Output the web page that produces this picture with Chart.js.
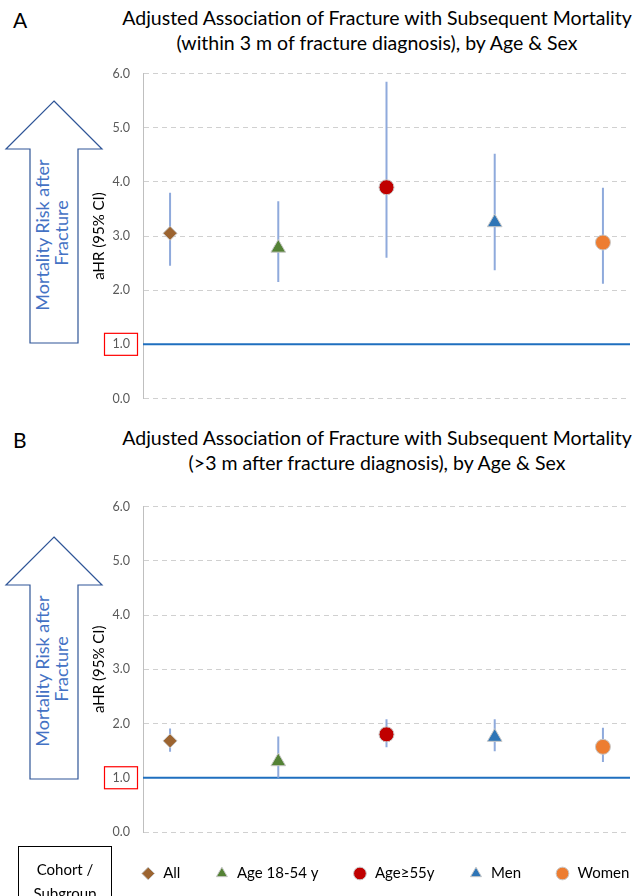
<!DOCTYPE html>
<html lang="en">
<head>
<meta charset="UTF-8">
<title>Adjusted Association of Fracture with Subsequent Mortality</title>
<script src="https://cdn.jsdelivr.net/npm/chart.js"></script>
<style>
  body { margin: 0; width: 642px; height: 896px; position: relative; overflow: hidden; background: #fff; font-family: Lato, "Open Sans", sans-serif; }
  .panel { position: absolute; font-size: 21px; }
  .title { position: absolute; left: 377px; transform: translateX(-50%); width: 600px; text-align: center; font-size: 19.5px; line-height: 25px; color: #000; }
  canvas { position: absolute; left: 0; }
  svg { position: absolute; left: 0; top: 0; }
  .cohort { position: absolute; left: 18px; top: 846px; width: 94px; height: 60px; border: 1px solid #000; text-align: center; font-size: 15px; line-height: 24px; padding-top: 10px; box-sizing: border-box; }
</style>
</head>
<body>
<svg width="120" height="896">
  <polygon points="54,101 102,149 78,149 78,343 30,343 30,149 6,149" fill="#fff" stroke="#2F5597" stroke-width="1.2"/>
  <text transform="translate(54,233) rotate(-90)" text-anchor="middle" font-size="18" fill="#4472C4" font-family="Lato, sans-serif">
    <tspan x="0" y="-5">Mortality Risk after</tspan>
    <tspan x="0" y="14">Fracture</tspan>
  </text>
  <polygon points="54,537 102,585 78,585 78,779 30,779 30,585 6,585" fill="#fff" stroke="#2F5597" stroke-width="1.2"/>
  <text transform="translate(54,669) rotate(-90)" text-anchor="middle" font-size="18" fill="#4472C4" font-family="Lato, sans-serif">
    <tspan x="0" y="-5">Mortality Risk after</tspan>
    <tspan x="0" y="14">Fracture</tspan>
  </text>
</svg>

<div class="panel" style="left:13px; top:7px;">A</div>
<div class="title" style="top:5px;">Adjusted Association of Fracture with Subsequent Mortality<br>(within 3 m of fracture diagnosis), by Age &amp; Sex</div>
<canvas id="chartA" width="642" height="366" style="top:53px;"></canvas>

<div class="panel" style="left:13px; top:427px;">B</div>
<div class="title" style="top:425px;">Adjusted Association of Fracture with Subsequent Mortality<br>(&gt;3 m after fracture diagnosis), by Age &amp; Sex</div>
<canvas id="chartB" width="642" height="405" style="top:486px;"></canvas>

<div class="cohort">Cohort /<br>Subgroup</div>

<script>
// subgroups and their marker looks
const groups = ['All', 'Age 18-54 y', 'Age\u226555y', 'Men', 'Women'];
const colors = ['#9C6430', '#548235', '#C00000', '#2E75B6', '#ED7D31'];
const shapes = ['rectRot', 'triangle', 'circle', 'triangle', 'circle'];
const sizes = [7, 8.5, 7.5, 8.5, 7.5];

// panel A: within 3 months of fracture diagnosis
const hrA = [3.05, 2.78, 3.90, 3.25, 2.88];
const loA = [2.45, 2.15, 2.60, 2.37, 2.12];
const hiA = [3.80, 3.64, 5.85, 4.52, 3.89];

// panel B: more than 3 months after fracture diagnosis
const hrB = [1.68, 1.30, 1.80, 1.75, 1.57];
const loB = [1.48, 1.00, 1.56, 1.49, 1.29];
const hiB = [1.91, 1.76, 2.08, 2.08, 1.92];

const yTicks = [0, 1, 2, 3, 4, 5, 6];
const refValue = 1.0;

// red box around the reference tick label
const refBox = {
  id: 'refBox',
  afterDraw(chart) {
    const y = chart.scales.y.getPixelForValue(refValue);
    const ctx = chart.ctx;
    ctx.save();
    ctx.strokeStyle = '#FF0000';
    ctx.lineWidth = 1.2;
    ctx.strokeRect(104.5, y - 11, 33, 22);
    ctx.restore();
  }
};

// nudge the legend so it sits under the plot like the original
const legendShift = {
  id: 'legendShift',
  afterLayout(chart) {
    if (chart.legend && chart.options.plugins.legend.display) {
      chart.legend.left += 55;
      chart.legend.right += 55;
    }
  }
};

function makeChart(id, hr, lo, hi, showLegend) {
  const datasets = [];
  // markers first so they sit on top
  groups.forEach((g, i) => {
    datasets.push({
      label: g,
      data: [{ x: i + 1, y: hr[i] }],
      pointStyle: shapes[i],
      pointRadius: sizes[i],
      backgroundColor: colors[i],
      borderColor: '#c8c8c8',
      borderWidth: 1
    });
  });
  // 95% CI whiskers
  groups.forEach((g, i) => {
    datasets.push({
      label: 'ci',
      data: [{ x: i + 1, y: lo[i] }, { x: i + 1, y: hi[i] }],
      showLine: true,
      borderColor: '#8FAADC',
      borderWidth: 2,
      pointRadius: 0
    });
  });
  // reference line at 1.0
  datasets.push({
    label: 'ref',
    data: [{ x: 0.75, y: refValue }, { x: 5.25, y: refValue }],
    showLine: true,
    borderColor: '#1F6FBF',
    borderWidth: 2,
    pointRadius: 0
  });

  return new Chart(document.getElementById(id), {
    type: 'scatter',
    data: { datasets },
    options: {
      responsive: false,
      animation: false,
      layout: { padding: { left: 30, right: 12, top: 10, bottom: showLegend ? 0 : 10 } },
      scales: {
        x: { type: 'linear', min: 0.75, max: 5.25, display: false },
        y: {
          min: 0, max: 6,
          afterBuildTicks: axis => { axis.ticks = yTicks.map(v => ({ value: v })); },
          afterFit: axis => { axis.width = 113; },
          ticks: {
            padding: 13,
            color: '#595959',
            font: { family: 'Lato', size: 12.5 },
            callback: v => v.toFixed(1)
          },
          grid: { color: '#d0d0d0', lineWidth: 1, drawTicks: false, borderDash: [5, 4] },
          border: { display: true, color: '#bfbfbf', width: 1, dash: [5, 4] },
          title: {
            display: true,
            text: 'aHR (95% CI)',
            color: '#000',
            font: { family: 'Lato', size: 15 },
            padding: { top: 60, bottom: 0 }
          }
        }
      },
      plugins: {
        tooltip: { enabled: false },
        legend: {
          display: showLegend,
          position: 'bottom',
          labels: {
            filter: item => item.datasetIndex < groups.length,
            usePointStyle: true,
            boxHeight: 9,
            padding: 34,
            color: '#000',
            font: { family: 'Lato', size: 15 }
          }
        }
      }
    },
    plugins: [refBox, legendShift]
  });
}

makeChart('chartA', hrA, loA, hiA, false);
makeChart('chartB', hrB, loB, hiB, true);
</script>
</body>
</html>
